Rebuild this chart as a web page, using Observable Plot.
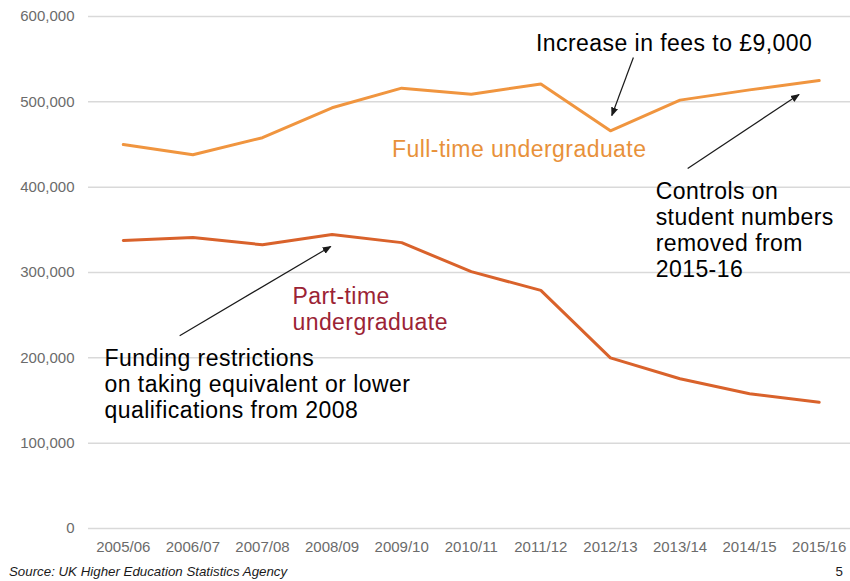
<!DOCTYPE html>
<html>
<head>
<meta charset="utf-8">
<script src="https://cdn.jsdelivr.net/npm/d3@7"></script>
<script src="https://cdn.jsdelivr.net/npm/@observablehq/plot@0.6"></script>
<style>
  html, body { margin: 0; padding: 0; background: #ffffff; overflow: hidden; }
  body { font-family: "Liberation Sans", Arial, sans-serif; }
  #wrap { width: 850px; }
  .foot { display: flex; justify-content: space-between; align-items: baseline;
          padding: 4px 7px 0 9px; font-size: 13.3px; color: #1a1a1a; height: 19px; line-height: 19px; }
  .foot .src { font-style: italic; }
  g[aria-label="text"] text { letter-spacing: 0.45px; }
</style>
</head>
<body>
<div id="wrap">
  <div id="chart"></div>
  <div class="foot"><span class="src">Source: UK Higher Education Statistics Agency</span><span>5</span></div>
</div>
<script>
// Academic years (x categories)
const years = ["2005/06", "2006/07", "2007/08", "2008/09", "2009/10", "2010/11",
               "2011/12", "2012/13", "2013/14", "2014/15", "2015/16"];
// Entrants by mode of study
const fullTime = [450000, 438000, 458000, 493000, 516000, 509000, 521000, 466000, 502000, 514000, 525000];
const partTime = [337500, 341000, 332500, 344500, 335000, 301000, 279000, 200000, 175500, 158000, 148000];
// Y axis ticks
const yTicks = [0, 100000, 200000, 300000, 400000, 500000, 600000];

// Series labels (positioned in data units: x = year index, y = value)
const labelText = ["Full-time undergraduate", "Part-time\nundergraduate"];
const labelX = [3.86, 2.43];
const labelY = [456500, 285000];
const labelColor = ["#E8913A", "#9B2335"];

// Annotations
const noteText = ["Increase in fees to £9,000",
                  "Controls on\nstudent numbers\nremoved from\n2015-16",
                  "Funding restrictions\non taking equivalent or lower\nqualifications from 2008"];
const noteX = [5.93, 7.65, -0.27];
const noteY = [581500, 407500, 212500];

// Annotation arrows (from text toward the line)
const arrowX1 = [7.33, 8.11, 0.81];
const arrowY1 = [552000, 422000, 226000];
const arrowX2 = [7.02, 9.71, 2.98];
const arrowY2 = [484000, 508600, 330500];

const idx = d3.range(years.length);
const ftData = idx.map(i => ({i, v: fullTime[i]}));
const ptData = idx.map(i => ({i, v: partTime[i]}));
const labels = labelText.map((t, k) => ({t, x: labelX[k], y: labelY[k], c: labelColor[k]}));
const notes = noteText.map((t, k) => ({t, x: noteX[k], y: noteY[k]}));
const arrows = arrowX1.map((_, k) => ({x1: arrowX1[k], y1: arrowY1[k], x2: arrowX2[k], y2: arrowY2[k]}));

const headMarker = (color) => {
  const m = d3.create("svg:marker")
    .attr("viewBox", "-9 -4 9 8")
    .attr("refX", -1)
    .attr("refY", 0)
    .attr("markerWidth", 9)
    .attr("markerHeight", 8)
    .attr("markerUnits", "userSpaceOnUse")
    .attr("orient", "auto");
  m.append("path").attr("d", "M-9,-3.6L0,0L-9,3.6Z").attr("fill", color).attr("stroke", "none");
  return m.node();
};

const font = "Liberation Sans, Arial, sans-serif";

const chart = Plot.plot({
  width: 850,
  height: 558,
  marginLeft: 88,
  marginRight: 0,
  marginTop: 16,
  marginBottom: 30,
  style: { fontFamily: font, background: "#ffffff" },
  x: { type: "linear", domain: [-0.5, 10.45] },
  y: { domain: [0, 600000] },
  marks: [
    Plot.gridY(yTicks, { stroke: "#d9d9d9", strokeOpacity: 1, strokeWidth: 1.5 }),
    Plot.axisY(yTicks, { tickSize: 0, tickPadding: 14, tickFormat: d3.format(","), fontSize: 15, fill: "#6b6b6b", label: null }),
    Plot.axisX(idx, { tickSize: 0, tickPadding: 13, tickFormat: i => years[i], fontSize: 15, fill: "#6b6b6b", label: null }),
    Plot.line(ftData, { x: "i", y: "v", stroke: "#F0953F", strokeWidth: 3 }),
    Plot.line(ptData, { x: "i", y: "v", stroke: "#D9622B", strokeWidth: 3 }),
    Plot.link(arrows, { x1: "x1", y1: "y1", x2: "x2", y2: "y2", stroke: "#1a1a1a", strokeWidth: 1.2, markerEnd: headMarker }),
    Plot.text(labels.slice(0, 1), { x: "x", y: "y", text: "t", textAnchor: "start", lineAnchor: "top", fontSize: 23, fill: labelColor[0], lineHeight: 1.13 }),
    Plot.text(labels.slice(1), { x: "x", y: "y", text: "t", textAnchor: "start", lineAnchor: "top", fontSize: 23, fill: labelColor[1], lineHeight: 1.13 }),
    Plot.text(notes, { x: "x", y: "y", text: "t", textAnchor: "start", lineAnchor: "top", fontSize: 23, fill: "#000000", lineHeight: 1.13 })
  ]
});

document.getElementById("chart").appendChild(chart);
</script>
</body>
</html>
